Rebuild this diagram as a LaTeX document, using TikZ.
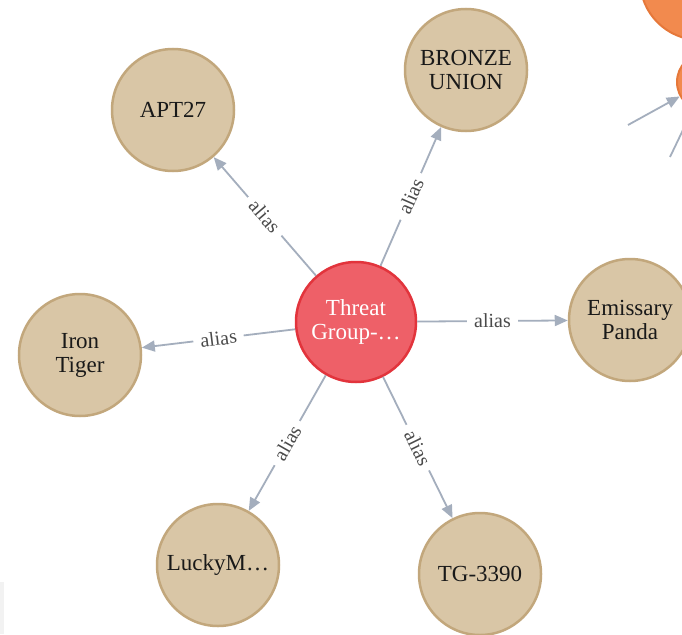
\documentclass[tikz,border=0pt]{standalone}
\usepackage{fontspec}
\setmainfont{Liberation Serif}
\usetikzlibrary{arrows.meta}
\definecolor{tanfill}{HTML}{D9C6A6}
\definecolor{tanline}{HTML}{C2A77C}
\definecolor{redfill}{HTML}{EE6068}
\definecolor{redline}{HTML}{E2343C}
\definecolor{edgec}{HTML}{A4AEBD}
\definecolor{labc}{HTML}{4A4A4A}
\definecolor{orfill}{HTML}{F28A4E}
\definecolor{orline}{HTML}{E6783A}
\definecolor{stripc}{HTML}{F2F2F2}
\begin{document}
\begin{tikzpicture}[x=1pt,y=-1pt,
  tannode/.style={circle, draw=tanline, fill=tanfill, line width=2.5pt, minimum size=122pt, inner sep=0pt, align=center, text=black!90, font=\fontsize{23}{24}\selectfont},
  rednode/.style={circle, draw=redline, fill=redfill, line width=2.5pt, minimum size=120pt, inner sep=0pt, align=center, text=white, font=\fontsize{23}{24}\selectfont},
  ornode/.style={circle, draw=orline, fill=orfill, line width=2pt, inner sep=0pt},
  edge/.style={draw=edgec, line width=1.8pt, -{Triangle[length=13pt,width=11pt]}},
  lab/.style={fill=white, text=labc, sloped, inner xsep=7pt, inner ysep=1pt, font=\fontsize{20}{20}\selectfont}
]
\useasboundingbox (0,0) rectangle (682,634);
\clip (0,0) rectangle (682,634);
\fill[white] (0,0) rectangle (682,634);
\fill[stripc] (0,582) rectangle (4,634);

% orange partial nodes
\node[ornode, minimum size=120pt] (O1) at (700,-20) {};
\node[ornode, minimum size=58pt] (O2) at (706,82) {};
\coordinate (c1) at (628,125);
\coordinate (c2) at (670,157);
\draw[edge] (c1) -- (O2);
\draw[edgec, line width=1.8pt] (c2) -- (O2);

% main nodes
\node[rednode] (T) at (356,322) {Threat\\Group-…};
\node[tannode] (A) at (173,110) {APT27};
\node[tannode] (B) at (466,70) {BRONZE\\UNION};
\node[tannode] (I) at (80,355) {Iron\\Tiger};
\node[tannode] (E) at (630,320) {Emissary\\Panda};
\node[tannode] (L) at (218,565) {LuckyM…};
\node[tannode] (G) at (480,574) {TG-3390};

\draw[edge] (T) -- node[lab] {alias} (A);
\draw[edge] (T) -- node[lab] {alias} (B);
\draw[edge] (T) -- node[lab] {alias} (I);
\draw[edge] (T) -- node[lab] {alias} (E);
\draw[edge] (T) -- node[lab] {alias} (L);
\draw[edge] (T) -- node[lab] {alias} (G);
\end{tikzpicture}
\end{document}
